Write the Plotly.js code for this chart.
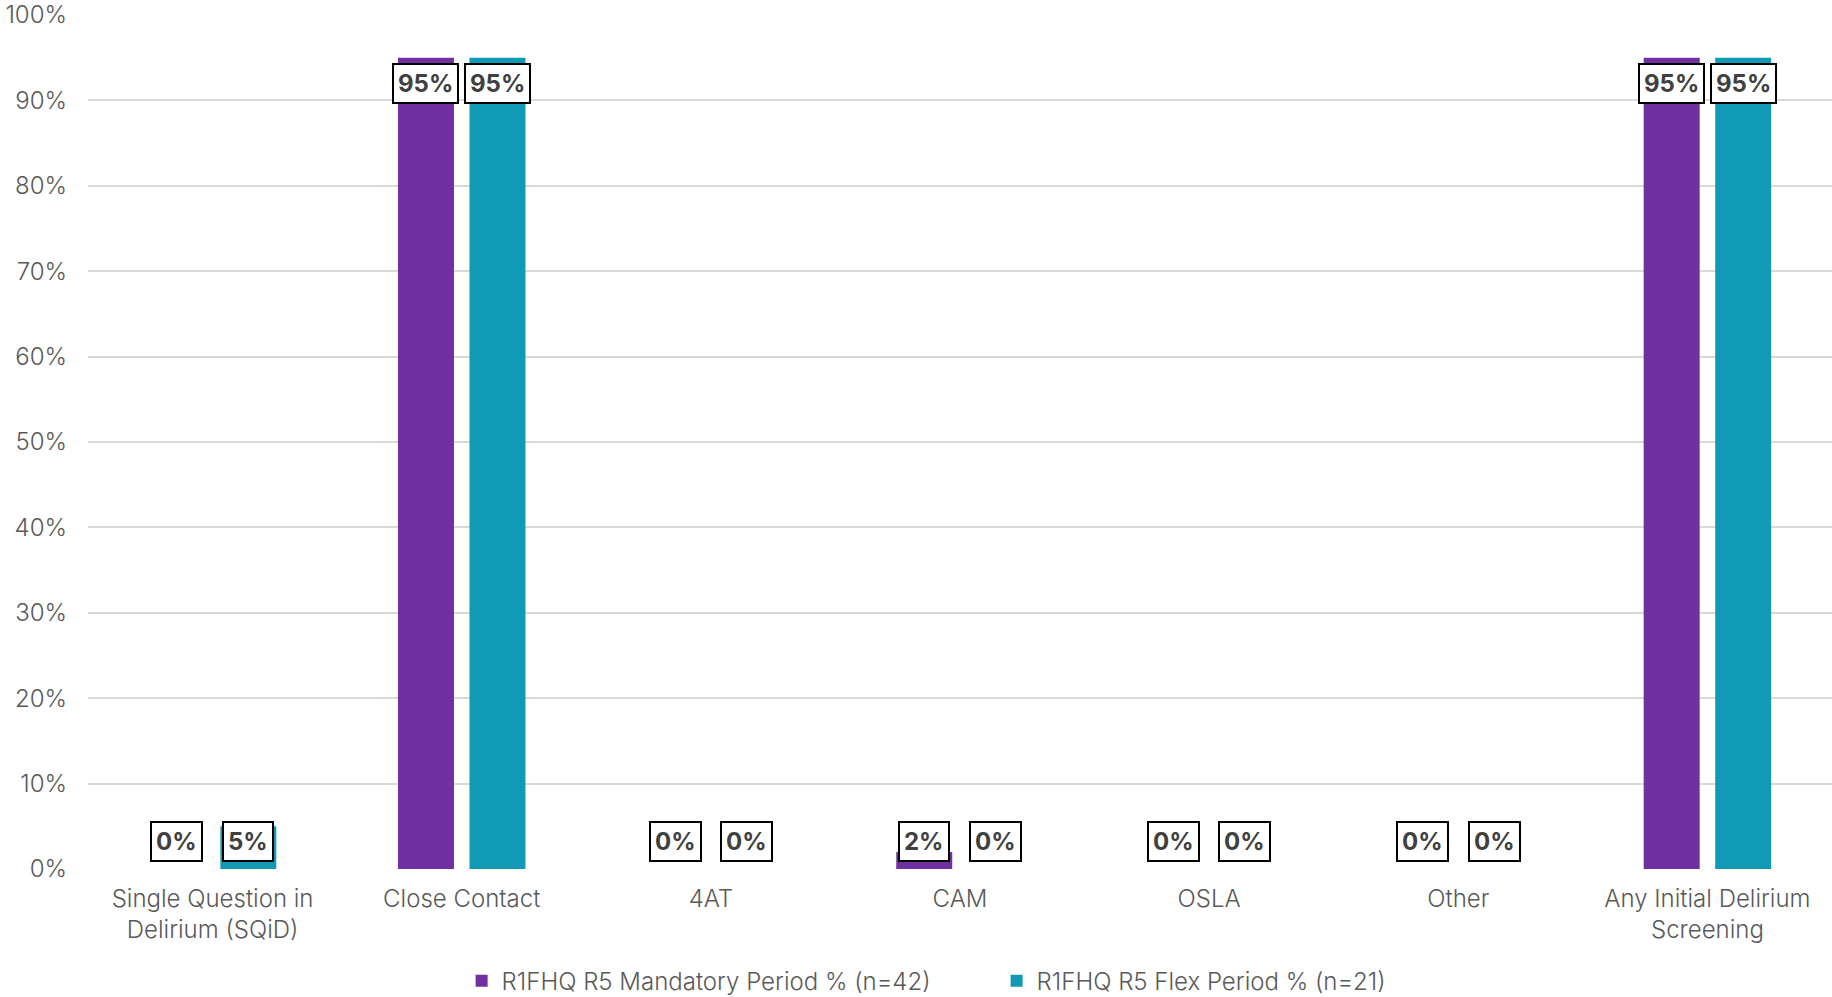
<!DOCTYPE html>
<html>
<head>
<meta charset="utf-8">
<script src="https://cdn.plot.ly/plotly-3.0.1.min.js"></script>
<style>
html,body{margin:0;padding:0;background:#fff;}
#chart{width:1832px;height:997px;}
</style>
</head>
<body>
<div id="chart"></div>
<script>
const categories = [
  "Single Question in<br>Delirium (SQiD)",
  "Close Contact",
  "4AT",
  "CAM",
  "OSLA",
  "Other",
  "Any Initial Delirium<br>Screening"
];
const seriesNames = [
  "R1FHQ R5 Mandatory Period % (n=42)",
  "R1FHQ R5 Flex Period % (n=21)"
];
const mandatoryValues = [0, 95, 0, 2, 0, 0, 95];
const flexValues = [5, 95, 0, 0, 0, 0, 95];
const yTickVals = [0,10,20,30,40,50,60,70,80,90,100];
const yTickText = ["0%","10%","20%","30%","40%","50%","60%","70%","80%","90%","100%"];

const colors = ["#7030A0", "#119AB5"];
const FONT = "Inter, 'Open Sans', sans-serif";
const bargap = 0.426;
const bargroupgap = 0.217;

const allSeries = [mandatoryValues, flexValues];
const traces = allSeries.map((vals, k) => ({
  type: "bar",
  name: seriesNames[k],
  x: categories,
  y: vals,
  marker: {color: colors[k], line: {width: 0}},
  hoverinfo: "x+y+name"
}));

const offset = (1 - bargap) / 4;
const annotations = [];
allSeries.forEach((vals, k) => {
  vals.forEach((v, i) => {
    const big = v > 10;
    annotations.push({
      xref: "x", yref: "y",
      x: i + (k === 0 ? -offset : offset),
      y: big ? v : 0,
      yanchor: big ? "top" : "bottom",
      yshift: big ? -5 : 7,
      text: "<b>" + v + "%</b>",
      showarrow: false,
      font: {family: FONT, size: 24, color: "#404040"},
      bgcolor: "#ffffff",
      bordercolor: "#000000",
      borderwidth: 2,
      borderpad: 4
    });
  });
});

const layout = {
  width: 1832,
  height: 997,
  margin: {l: 88, r: 0, t: 15, b: 128, autoexpand: false},
  paper_bgcolor: "#ffffff",
  plot_bgcolor: "#ffffff",
  font: {family: FONT, color: "#595959", size: 24},
  barmode: "group",
  bargap: bargap,
  bargroupgap: bargroupgap,
  showlegend: true,
  legend: {
    orientation: "h",
    xref: "paper",
    x: 0.521, xanchor: "center",
    yref: "container",
    y: 0.016, yanchor: "middle",
    font: {family: FONT, size: 24, color: "#595959", weight: 300},
    itemwidth: 30,
    entrywidth: 490,
    traceorder: "normal"
  },
  xaxis: {
    type: "category",
    automargin: false,
    showgrid: false,
    zeroline: false,
    showline: false,
    ticks: "",
    ticklabelstandoff: 13,
    tickfont: {family: FONT, size: 24, color: "#595959", weight: 300},
    fixedrange: true
  },
  yaxis: {
    range: [0, 100],
    automargin: false,
    tickvals: yTickVals,
    ticktext: yTickText,
    showgrid: true,
    gridcolor: "#d9d9d9",
    gridwidth: 2,
    zeroline: false,
    showline: false,
    ticks: "",
    ticklabelstandoff: 20,
    tickfont: {family: FONT, size: 24, color: "#595959", weight: 300},
    fixedrange: true
  },
  annotations: annotations
};

Plotly.newPlot("chart", traces, layout, {displayModeBar: false, staticPlot: true});
</script>
</body>
</html>
